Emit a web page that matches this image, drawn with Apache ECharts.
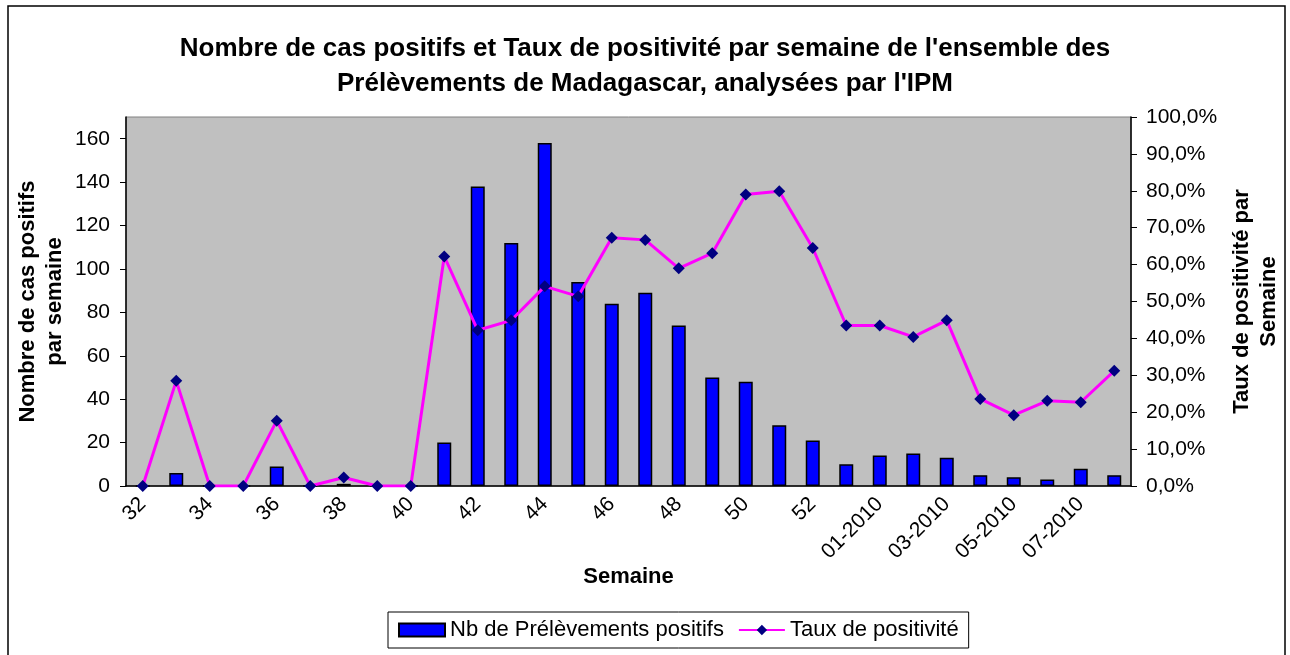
<!DOCTYPE html>
<html>
<head>
<meta charset="utf-8">
<script src="https://cdn.jsdelivr.net/npm/echarts@6/dist/echarts.min.js"></script>
<style>
  html, body { margin: 0; padding: 0; background: #fff; }
  #main { width: 1290px; height: 655px; }
</style>
</head>
<body>
<div id="main"></div>
<script>
// weeks (x axis)
var semaines = ['32', '33', '34', '35', '36', '37', '38', '39', '40', '41', '42', '43', '44', '45', '46',
  '47', '48', '49', '50', '51', '52', '53', '01-2010', '02-2010', '03-2010', '04-2010', '05-2010',
  '06-2010', '07-2010', '08-2010'];

// Nb de Prélèvements positifs
var nbPositifs = [0, 6, 0, 0, 9, 0, 1, 0, 0, 20, 138, 112, 158, 94, 84, 89, 74, 50, 48, 28, 21, 10,
  14, 15, 13, 5, 4, 3, 8, 5];

// Taux de positivité (%)
var tauxPositivite = [0, 28.5, 0, 0, 17.7, 0, 2.3, 0, 0, 62.2, 42.2, 44.9, 54.1, 51.4, 67.3, 66.7,
  59.0, 63.1, 79.0, 79.9, 64.5, 43.5, 43.5, 40.4, 44.9, 23.6, 19.2, 23.1, 22.7, 31.2];

var leftTicks = [0, 20, 40, 60, 80, 100, 120, 140, 160];

var myChart = echarts.init(document.getElementById('main'));

var font = 'Arial, "Liberation Sans", sans-serif';

var option = {
  animation: false,
  textStyle: { fontFamily: font, color: '#000' },
  title: {
    text: "Nombre de cas positifs et Taux de positivité par semaine de l'ensemble des\nPrélèvements de Madagascar, analysées par l'IPM",
    left: 'center',
    top: 26,
    textStyle: { fontFamily: font, fontSize: 26, fontWeight: 'bold', color: '#000', lineHeight: 35 }
  },
  graphic: [{
    type: 'rect',
    shape: { x: 8, y: 6, width: 1277, height: 670 },
    style: { fill: 'none', stroke: '#000', lineWidth: 1.5 },
    silent: true
  }],
  legend: {
    left: 388,
    top: 612,
    padding: [7, 10, 7, 10],
    borderColor: '#000',
    borderWidth: 1,
    itemWidth: 46,
    itemHeight: 13,
    itemGap: 14,
    textStyle: { fontFamily: font, fontSize: 22, color: '#000' },
    data: [
      { name: 'Nb de Prélèvements positifs', icon: 'rect' },
      { name: 'Taux de positivité' }
    ]
  },
  grid: {
    left: 126,
    right: 159,
    top: 117,
    bottom: 169,
    show: true,
    backgroundColor: '#C0C0C0',
    borderColor: '#808080',
    borderWidth: 1
  },
  xAxis: {
    type: 'category',
    data: semaines,
    name: 'Semaine',
    nameLocation: 'middle',
    nameGap: 80,
    nameMoveOverlap: false,
    nameTextStyle: { fontFamily: font, fontSize: 22, fontWeight: 'bold', color: '#000' },
    axisLine: { lineStyle: { color: '#000', width: 1.5 } },
    axisTick: { interval: 0, length: 6, lineStyle: { color: '#000' } },
    axisLabel: { interval: 1, rotate: 45, fontSize: 21, color: '#000', margin: 15 },
    splitLine: { show: false }
  },
  yAxis: [
    {
      type: 'value',
      min: 0,
      max: 170,
      interval: 20,
      name: 'Nombre de cas positifs\npar semaine',
      nameLocation: 'middle',
      nameGap: 58,
      nameMoveOverlap: false,
      nameTextStyle: { fontFamily: font, fontSize: 22, fontWeight: 'bold', color: '#000', lineHeight: 27 },
      axisLine: { show: true, lineStyle: { color: '#000', width: 1.5 } },
      axisTick: { show: true, length: 6, customValues: leftTicks, lineStyle: { color: '#000' } },
      axisLabel: { fontSize: 21, color: '#000', customValues: leftTicks, margin: 16 },
      splitLine: { show: false }
    },
    {
      type: 'value',
      min: 0,
      max: 100,
      interval: 10,
      position: 'right',
      name: 'Taux de positivité par\nSemaine',
      nameLocation: 'middle',
      nameGap: 97,
      nameMoveOverlap: false,
      nameTextStyle: { fontFamily: font, fontSize: 22, fontWeight: 'bold', color: '#000', lineHeight: 27 },
      axisLine: { show: true, lineStyle: { color: '#000', width: 1.5 } },
      axisTick: { show: true, length: 6, lineStyle: { color: '#000' } },
      axisLabel: {
        fontSize: 21, color: '#000', margin: 15,
        formatter: function (v) { return v.toFixed(1).replace('.', ',') + '%'; }
      },
      splitLine: { show: false }
    }
  ],
  series: [
    {
      name: 'Nb de Prélèvements positifs',
      type: 'bar',
      yAxisIndex: 0,
      data: nbPositifs,
      barWidth: 14,
      itemStyle: { color: '#0000FF', borderColor: '#000', borderWidth: 1.5 }
    },
    {
      name: 'Taux de positivité',
      type: 'line',
      yAxisIndex: 1,
      data: tauxPositivite,
      symbol: 'diamond',
      symbolSize: 12,
      lineStyle: { color: '#FF00FF', width: 3 },
      itemStyle: { color: '#000080' }
    }
  ]
};

myChart.setOption(option);
</script>
</body>
</html>
